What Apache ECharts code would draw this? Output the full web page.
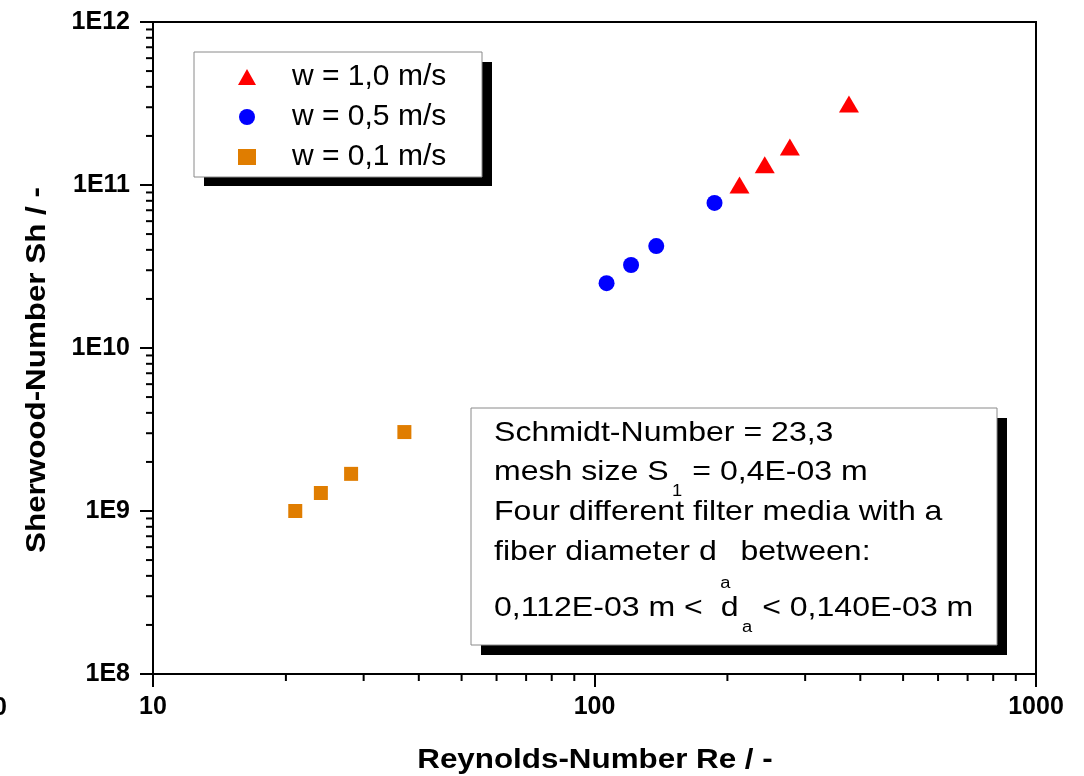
<!DOCTYPE html>
<html>
<head>
<meta charset="utf-8">
<script src="https://cdn.jsdelivr.net/npm/echarts@6/dist/echarts.min.js"></script>
<style>
  html, body { margin: 0; padding: 0; background: #fff; }
  #chart { width: 1084px; height: 776px; }
</style>
</head>
<body>
<div id="chart"></div>
<script>
// Sherwood number vs. Reynolds number for three flow velocities
const seriesNames = ['w = 1,0 m/s', 'w = 0,5 m/s', 'w = 0,1 m/s'];

const reynolds10 = [213, 243, 277, 377];
const sherwood10 = [1.0e11, 1.33e11, 1.71e11, 3.14e11];

const reynolds05 = [106.5, 121, 138, 187];
const sherwood05 = [2.5e10, 3.23e10, 4.22e10, 7.76e10];

const reynolds01 = [21.0, 24.0, 28.1, 37.1];
const sherwood01 = [1.0e9, 1.29e9, 1.69e9, 3.05e9];

// axis ranges and minor tick positions (log decades)
const xRange = [10, 1000];
const yRange = [1e8, 1e12];
const xMinorTicks = [20, 30, 40, 50, 60, 70, 80, 90, 200, 300, 400, 500, 600, 700, 800, 900];
const yMinorTicks = [
  2e8, 3e8, 4e8, 5e8, 6e8, 7e8, 8e8, 9e8,
  2e9, 3e9, 4e9, 5e9, 6e9, 7e9, 8e9, 9e9,
  2e10, 3e10, 4e10, 5e10, 6e10, 7e10, 8e10, 9e10,
  2e11, 3e11, 4e11, 5e11, 6e11, 7e11, 8e11, 9e11
];

const annotationLines = [
  ['Schmidt-Number = 23,3'],
  ['mesh size S', '1', ' = 0,4E-03 m'],
  ['Four different filter media with a'],
  ['fiber diameter d', 'a', ' between:'],
  ['0,112E-03 m <  d', 'a', ' < 0,140E-03 m']
];

const FONT = '"Liberation Sans", Arial, Helvetica, sans-serif';

function pairs(xs, ys) { return xs.map((x, i) => [x, ys[i]]); }

const chart = echarts.init(document.getElementById('chart'), null, { renderer: 'canvas' });

function minorTick(dir) {
  return function (params, api) {
    const p = api.coord([api.value(0), api.value(1)]);
    const len = 7;
    const shape = dir === 'x'
      ? { x1: p[0], y1: p[1], x2: p[0], y2: p[1] + len }
      : { x1: p[0], y1: p[1], x2: p[0] - len, y2: p[1] };
    return { type: 'line', shape: shape, style: { stroke: '#000', lineWidth: 2 } };
  };
}

// annotation text: one element per line, subscripts dropped below the baseline
const lineCenters = [433, 472, 512, 552, 608];
const subLineHeights = [56, 56, 56, 80, 56];
const annotationTexts = annotationLines.map((parts, i) => {
  let txt = '';
  parts.forEach((p, k) => { txt += (k % 2 === 1 ? '{s|' : '{n|') + p + '}'; });
  return {
    type: 'text', x: 494, y: lineCenters[i], scaleX: 1.145, z: 7,
    style: {
      text: txt, align: 'left', verticalAlign: 'middle',
      rich: {
        n: { fontFamily: FONT, fontSize: 28, fill: '#000', lineHeight: subLineHeights[i], verticalAlign: 'middle' },
        s: { fontFamily: FONT, fontSize: 16, fill: '#000', lineHeight: 20, verticalAlign: 'bottom', padding: [0, 1, 0, 3] }
      }
    }
  };
});

const option = {
  backgroundColor: '#fff',
  animation: false,
  grid: { left: 153, right: 48, top: 22, bottom: 102, show: true, borderColor: '#000', borderWidth: 2 },
  xAxis: {
    type: 'log', logBase: 10, min: xRange[0], max: xRange[1],
    axisLine: { lineStyle: { color: '#000', width: 2 } },
    axisTick: { length: 13, inside: false, lineStyle: { color: '#000', width: 2 } },
    splitLine: { show: false },
    axisLabel: {
      margin: 21, color: '#000', fontFamily: FONT, fontSize: 25, fontWeight: 'bold',
      formatter: v => String(Math.round(v))
    }
  },
  yAxis: {
    type: 'log', logBase: 10, min: yRange[0], max: yRange[1],
    axisLine: { lineStyle: { color: '#000', width: 2 } },
    axisTick: { length: 13, inside: false, lineStyle: { color: '#000', width: 2 } },
    splitLine: { show: false },
    axisLabel: {
      margin: 23, color: '#000', fontFamily: FONT, fontSize: 25, fontWeight: 'bold',
      formatter: v => '1E' + Math.round(Math.log10(v))
    }
  },
  legend: {
    z: 10,
    orient: 'vertical', left: 238, top: 62, padding: 0,
    itemWidth: 18, itemHeight: 16, itemGap: 10,
    data: [
      { name: seriesNames[0], icon: 'triangle' },
      { name: seriesNames[1], icon: 'circle' },
      { name: seriesNames[2], icon: 'rect' }
    ],
    textStyle: { fontFamily: FONT, fontSize: 30, color: '#000', lineHeight: 28, padding: [0, 0, 0, 31] }
  },
  series: [
    {
      name: seriesNames[0], type: 'scatter', symbol: 'triangle', symbolSize: [20, 17],
      itemStyle: { color: '#ff0000', opacity: 1 }, data: pairs(reynolds10, sherwood10), z: 5
    },
    {
      name: seriesNames[1], type: 'scatter', symbol: 'circle', symbolSize: 16,
      itemStyle: { color: '#0000ff', opacity: 1 }, data: pairs(reynolds05, sherwood05), z: 5
    },
    {
      name: seriesNames[2], type: 'scatter', symbol: 'rect', symbolSize: 14,
      itemStyle: { color: '#e07d00', opacity: 1 }, data: pairs(reynolds01, sherwood01), z: 5
    },
    {
      type: 'custom', name: 'xMinor', silent: true, clip: false, z: 3,
      renderItem: minorTick('x'),
      data: xMinorTicks.map(v => [v, yRange[0]])
    },
    {
      type: 'custom', name: 'yMinor', silent: true, clip: false, z: 3,
      renderItem: minorTick('y'),
      data: yMinorTicks.map(v => [xRange[0], v])
    }
  ],
  graphic: [
    // legend frame with drop shadow
    { type: 'rect', z: 5, shape: { x: 204, y: 62, width: 288, height: 124 }, style: { fill: '#000' } },
    { type: 'rect', z: 6, shape: { x: 194, y: 52, width: 288, height: 125 }, style: { fill: '#fff', stroke: '#8a8a8a', lineWidth: 1 } },
    // parameter box with drop shadow
    { type: 'rect', z: 5, shape: { x: 481, y: 418, width: 526, height: 237 }, style: { fill: '#000' } },
    { type: 'rect', z: 6, shape: { x: 471, y: 408, width: 526, height: 237 }, style: { fill: '#fff', stroke: '#8a8a8a', lineWidth: 1 } },
    ...annotationTexts,
    // axis titles
    {
      type: 'text', x: 595, y: 760, scaleX: 1.12, z: 7,
      style: { text: 'Reynolds-Number Re / -', fontFamily: FONT, fontSize: 28, fontWeight: 'bold', fill: '#000', align: 'center', verticalAlign: 'middle' }
    },
    {
      type: 'text', x: 37, y: 370, rotation: Math.PI / 2, scaleX: 1.12, z: 7,
      style: { text: 'Sherwood-Number Sh / -', fontFamily: FONT, fontSize: 28, fontWeight: 'bold', fill: '#000', align: 'center', verticalAlign: 'middle' }
    },
    {
      type: 'text', x: 7, y: 708, z: 7,
      style: { text: '0', fontFamily: FONT, fontSize: 25, fontWeight: 'bold', fill: '#000', align: 'right', verticalAlign: 'middle' }
    }
  ]
};

chart.setOption(option);
</script>
</body>
</html>
